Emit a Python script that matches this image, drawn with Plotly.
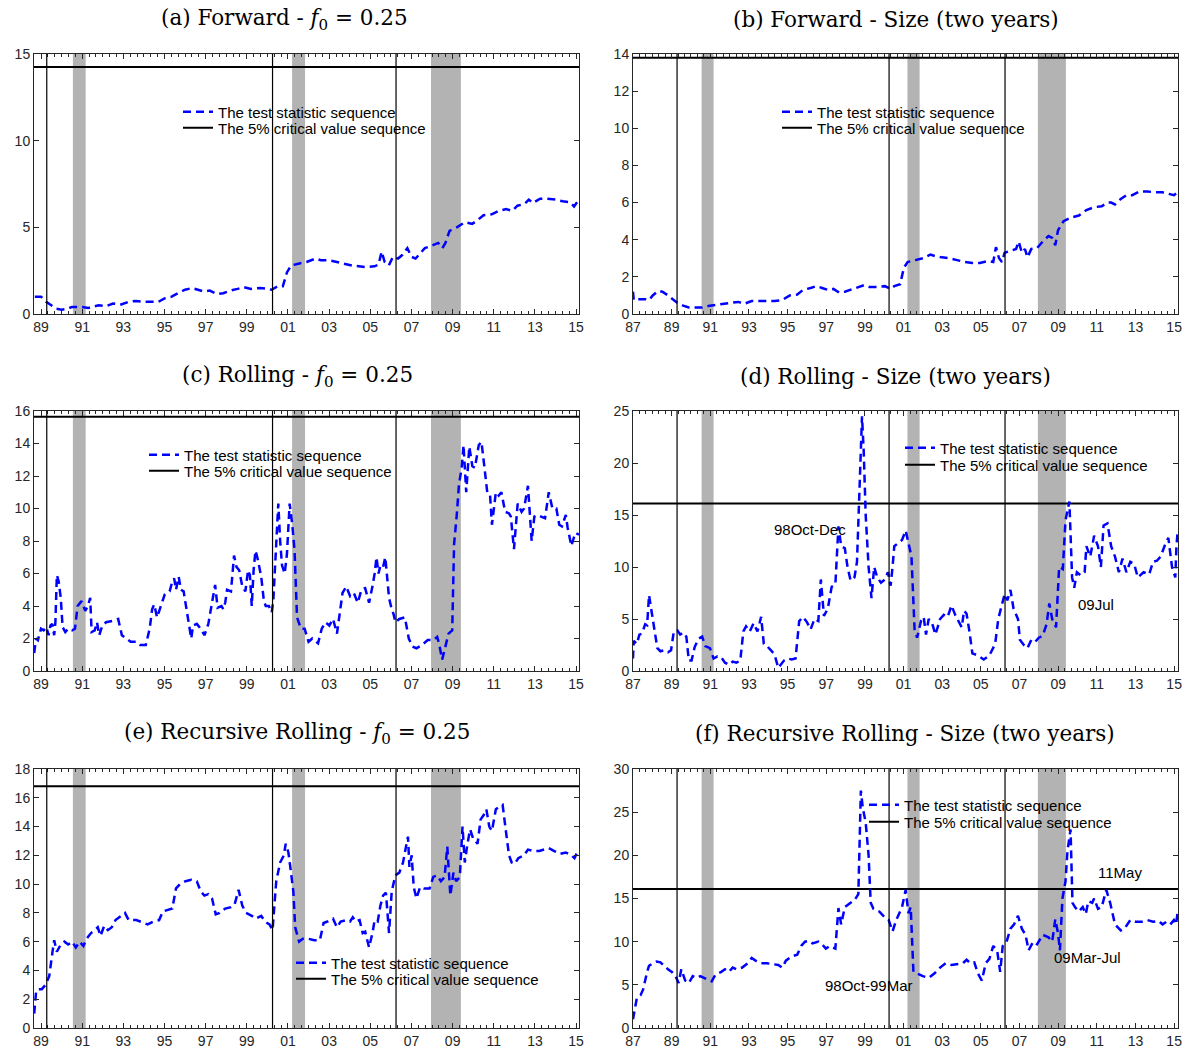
import plotly.graph_objects as go

# ---------------- data ----------------
crit_a, crit_b, crit_c, crit_d, crit_e, crit_f = 14.25, 13.8, 15.65, 16.1, 16.8, 16.1

regime_lines = [1989.28, 2000.25, 2006.25]
recessions = [(1990.55, 1991.17), (2001.2, 2001.83), (2007.95, 2009.4)]

left_range = [1988.66, 2015.14]
right_range = [1987.0, 2015.2]
left_ticks = [1989, 1991, 1993, 1995, 1997, 1999, 2001, 2003, 2005, 2007, 2009, 2011, 2013, 2015]
left_labels = ["89", "91", "93", "95", "97", "99", "01", "03", "05", "07", "09", "11", "13", "15"]
right_ticks = [1987] + left_ticks
right_labels = ["87"] + left_labels

a_x = [1988.70, 1989.00, 1989.25, 1989.50, 1989.75, 1990.00, 1990.25, 1990.50, 1991.00, 1991.30,
       1991.80, 1992.15, 1992.50, 1992.90, 1993.25, 1993.60, 1994.00, 1994.35, 1994.70, 1995.00,
       1995.35, 1995.65, 1996.00, 1996.35, 1996.65, 1996.90, 1997.20, 1997.55, 1997.85, 1998.20,
       1998.55, 1998.85, 1999.20, 1999.65, 2000.00, 2000.20, 2000.50, 2000.75, 2000.95, 2001.15,
       2001.50, 2001.90, 2002.35, 2002.60, 2003.00, 2003.35, 2003.70, 2004.10, 2004.45, 2004.80,
       2005.20, 2005.40, 2005.55, 2005.70, 2005.90, 2006.10, 2006.35, 2006.55, 2006.80, 2007.00,
       2007.20, 2007.45, 2007.65, 2007.90, 2008.30, 2008.50, 2008.65, 2008.85, 2009.20, 2009.60,
       2009.95, 2010.20, 2010.50, 2010.90, 2011.25, 2011.60, 2011.90, 2012.15, 2012.50, 2012.70,
       2012.90, 2013.25, 2013.60, 2014.00, 2014.35, 2014.70, 2014.90, 2015.14]
a_y = [1.0, 1.0, 0.7, 0.5, 0.3, 0.25, 0.3, 0.4, 0.4, 0.35,
       0.5, 0.45, 0.6, 0.55, 0.7, 0.75, 0.7, 0.7, 0.7, 0.9,
       1.0, 1.2, 1.4, 1.5, 1.4, 1.3, 1.35, 1.15, 1.2, 1.35,
       1.45, 1.55, 1.45, 1.5, 1.45, 1.4, 1.6, 1.6, 2.4, 2.8,
       2.9, 3.0, 3.2, 3.1, 3.1, 3.0, 2.9, 2.8, 2.75, 2.7,
       2.75, 2.85, 3.6, 3.0, 2.8, 3.3, 3.2, 3.4, 3.8, 3.3,
       3.2, 3.5, 3.8, 3.9, 4.1, 3.8, 4.1, 4.8, 5.0, 5.3,
       5.2, 5.4, 5.7, 5.75, 5.95, 6.05, 5.95, 6.25, 6.35, 6.6,
       6.4, 6.65, 6.65, 6.6, 6.5, 6.45, 6.2, 6.6]

b_x = [1987.00, 1987.04, 1987.24, 1987.63, 1987.83, 1988.02, 1988.32, 1988.52, 1988.81, 1989.11,
       1989.30, 1989.60, 1989.89, 1990.29, 1990.58, 1990.98, 1991.37, 1991.76, 1992.16, 1992.45,
       1992.75, 1993.14, 1993.54, 1993.93, 1994.32, 1994.72, 1995.11, 1995.50, 1995.80, 1996.19,
       1996.49, 1996.78, 1997.08, 1997.37, 1997.67, 1997.96, 1998.26, 1998.65, 1998.95, 1999.24,
       1999.64, 2000.03, 2000.33, 2000.52, 2000.82, 2001.02, 2001.21, 2001.61, 2002.00, 2002.39,
       2002.69, 2002.98, 2003.38, 2003.77, 2004.17, 2004.56, 2004.95, 2005.35, 2005.64, 2005.78,
       2005.94, 2006.09, 2006.23, 2006.53, 2006.82, 2006.96, 2007.12, 2007.28, 2007.41, 2007.61,
       2007.91, 2008.20, 2008.50, 2008.69, 2008.85, 2008.99, 2009.28, 2009.68, 2010.07, 2010.46,
       2010.86, 2011.25, 2011.55, 2011.74, 2011.94, 2012.24, 2012.53, 2012.83, 2013.22, 2013.61,
       2014.01, 2014.40, 2014.80, 2014.99, 2015.18]
b_y = [1.2, 0.75, 0.8, 0.8, 0.75, 1.0, 1.25, 1.2, 1.0, 0.75,
       0.6, 0.45, 0.35, 0.35, 0.35, 0.45, 0.5, 0.55, 0.6, 0.65,
       0.55, 0.7, 0.7, 0.7, 0.7, 0.75, 1.0, 1.05, 1.3, 1.4,
       1.5, 1.4, 1.3, 1.35, 1.15, 1.2, 1.3, 1.45, 1.55, 1.45,
       1.45, 1.5, 1.35, 1.5, 1.6, 2.5, 2.8, 2.9, 3.0, 3.2,
       3.1, 3.05, 3.0, 2.9, 2.8, 2.75, 2.75, 2.85, 2.8, 3.6,
       3.0, 2.8, 3.3, 3.4, 3.5, 3.9, 3.3, 3.5, 3.05, 3.5,
       3.55, 3.9, 4.2, 4.1, 3.7, 4.5, 5.0, 5.2, 5.3, 5.6,
       5.75, 5.8, 6.0, 6.0, 5.9, 6.2, 6.4, 6.4, 6.6, 6.6,
       6.55, 6.55, 6.45, 6.4, 6.55]

c_x = [1988.67, 1988.76, 1988.85, 1989.00, 1989.13, 1989.26, 1989.37, 1989.46, 1989.55, 1989.64,
       1989.70, 1989.77, 1989.86, 1989.96, 1990.05, 1990.18, 1990.32, 1990.51, 1990.65, 1990.78,
       1990.97, 1991.15, 1991.28, 1991.39, 1991.46, 1991.61, 1991.72, 1991.83, 1991.98, 1992.16,
       1992.53, 1992.75, 1992.93, 1993.17, 1993.36, 1993.63, 1993.82, 1994.09, 1994.28, 1994.40,
       1994.50, 1994.64, 1994.83, 1995.01, 1995.25, 1995.38, 1995.47, 1995.56, 1995.69, 1995.80,
       1995.93, 1996.11, 1996.21, 1996.30, 1996.39, 1996.57, 1996.76, 1996.94, 1997.13, 1997.31,
       1997.46, 1997.58, 1997.77, 1997.86, 1997.95, 1998.04, 1998.23, 1998.38, 1998.50, 1998.63,
       1998.78, 1998.93, 1999.06, 1999.15, 1999.24, 1999.33, 1999.42, 1999.51, 1999.70, 1999.83,
       1999.92, 2000.07, 2000.21, 2000.29, 2000.40, 2000.53, 2000.62, 2000.71, 2000.84, 2000.95,
       2001.08, 2001.21, 2001.32, 2001.44, 2001.63, 2001.81, 2002.00, 2002.18, 2002.46, 2002.64,
       2002.82, 2003.01, 2003.19, 2003.38, 2003.65, 2003.83, 2004.02, 2004.20, 2004.39, 2004.57,
       2004.75, 2004.94, 2005.12, 2005.21, 2005.30, 2005.40, 2005.49, 2005.62, 2005.73, 2005.80,
       2005.91, 2006.04, 2006.13, 2006.22, 2006.41, 2006.68, 2006.87, 2007.05, 2007.24, 2007.51,
       2007.79, 2008.06, 2008.25, 2008.34, 2008.49, 2008.61, 2008.80, 2008.98, 2009.07, 2009.20,
       2009.31, 2009.44, 2009.53, 2009.66, 2009.81, 2009.96, 2010.08, 2010.27, 2010.40, 2010.54,
       2010.69, 2010.82, 2010.91, 2011.10, 2011.24, 2011.37, 2011.55, 2011.74, 2011.83, 2011.98,
       2012.16, 2012.35, 2012.47, 2012.66, 2012.84, 2012.97, 2013.12, 2013.30, 2013.49, 2013.67,
       2013.85, 2014.04, 2014.18, 2014.31, 2014.50, 2014.59, 2014.77, 2014.96, 2015.14]
c_y = [1.1, 2.0, 1.9, 2.6, 2.5, 2.7, 2.2, 2.8, 2.9, 2.2,
       3.0, 5.9, 5.5, 4.5, 2.7, 2.4, 2.6, 2.5, 2.6, 4.0,
       4.3, 3.7, 4.0, 4.5, 2.4, 2.5, 3.0, 2.2, 2.8, 3.0,
       3.1, 3.2, 2.2, 2.0, 1.8, 1.8, 1.6, 1.6, 2.6, 3.8,
       4.1, 3.3, 4.0, 4.7, 4.9, 5.5, 5.7, 5.0, 5.8, 5.0,
       4.9, 3.4, 2.5, 2.0, 2.8, 2.9, 2.6, 2.2, 2.9, 4.3,
       5.3, 3.9, 4.0, 3.8, 4.2, 5.0, 4.9, 7.1, 6.4, 6.2,
       5.2, 4.9, 6.2, 5.9, 4.0, 6.2, 7.4, 7.0, 5.8, 4.3,
       4.0, 4.0, 3.6, 4.4, 7.0, 10.3, 8.0, 6.5, 6.0, 7.2,
       10.3, 9.0, 7.4, 3.3, 2.6, 2.6, 1.8, 2.0, 1.7, 2.6,
       3.0, 2.8, 3.2, 2.3, 4.8, 5.2, 4.6, 4.8, 4.2, 5.0,
       5.1, 4.2, 5.3, 6.0, 7.0, 6.0, 6.5, 6.4, 7.0, 6.0,
       4.5, 3.8, 3.5, 3.0, 3.2, 3.3, 2.0, 1.5, 1.4, 1.6,
       1.9, 1.9, 2.1, 1.7, 0.7, 1.3, 2.3, 2.5, 7.8, 9.6,
       11.5, 12.5, 13.9, 11.0, 13.8, 12.6, 12.5, 13.9, 14.1, 12.6,
       10.9, 10.8, 9.0, 11.0, 10.8, 11.0, 9.8, 9.7, 9.5, 7.5,
       10.3, 9.8, 10.0, 11.4, 8.0, 9.5, 9.6, 9.5, 9.4, 11.0,
       10.0, 10.0, 9.0, 8.9, 9.6, 8.8, 7.7, 8.5, 8.4]

d_x = [1987.00, 1987.04, 1987.20, 1987.33, 1987.47, 1987.63, 1987.73, 1987.83, 1987.98, 1988.12,
       1988.26, 1988.42, 1988.61, 1988.81, 1988.97, 1989.11, 1989.30, 1989.44, 1989.60, 1989.76,
       1989.89, 1990.03, 1990.19, 1990.39, 1990.58, 1990.74, 1990.98, 1991.17, 1991.37, 1991.57,
       1991.76, 1991.96, 1992.16, 1992.35, 1992.55, 1992.71, 1992.85, 1993.04, 1993.24, 1993.44,
       1993.63, 1993.77, 1993.93, 1994.13, 1994.32, 1994.52, 1994.68, 1994.81, 1995.01, 1995.21,
       1995.41, 1995.60, 1995.80, 1996.00, 1996.19, 1996.39, 1996.59, 1996.72, 1996.88, 1997.08,
       1997.28, 1997.47, 1997.63, 1997.77, 1997.96, 1998.10, 1998.26, 1998.46, 1998.59, 1998.75,
       1998.85, 1998.94, 1999.04, 1999.19, 1999.34, 1999.48, 1999.64, 1999.83, 2000.03, 2000.19,
       2000.33, 2000.43, 2000.52, 2000.72, 2000.92, 2001.11, 2001.27, 2001.41, 2001.57, 2001.70,
       2001.90, 2002.04, 2002.16, 2002.30, 2002.49, 2002.65, 2002.89, 2003.08, 2003.28, 2003.48,
       2003.67, 2003.87, 2004.01, 2004.13, 2004.26, 2004.40, 2004.56, 2004.85, 2005.15, 2005.44,
       2005.74, 2005.90, 2006.09, 2006.23, 2006.37, 2006.53, 2006.69, 2006.92, 2007.02, 2007.22,
       2007.41, 2007.61, 2007.81, 2008.00, 2008.20, 2008.40, 2008.54, 2008.69, 2008.89, 2009.05,
       2009.24, 2009.38, 2009.58, 2009.72, 2009.83, 2009.97, 2010.17, 2010.37, 2010.46, 2010.66,
       2010.86, 2011.06, 2011.21, 2011.35, 2011.55, 2011.74, 2011.94, 2012.14, 2012.33, 2012.53,
       2012.73, 2012.93, 2013.12, 2013.42, 2013.71, 2013.91, 2014.11, 2014.30, 2014.50, 2014.70,
       2014.89, 2015.06, 2015.12, 2015.18]
d_y = [1.2, 2.9, 2.6, 3.5, 3.6, 4.5, 4.4, 7.3, 5.5, 4.0,
       2.2, 1.9, 2.0, 1.8, 2.0, 3.8, 3.9, 3.5, 3.7, 3.3,
       1.0, 1.0, 2.3, 3.1, 3.3, 2.4, 2.2, 1.2, 1.4, 1.3,
       0.8, 0.6, 0.9, 0.8, 1.0, 3.8, 4.3, 3.8, 4.6, 3.8,
       5.2, 2.6, 2.4, 2.0, 1.6, 0.3, 0.7, 1.0, 1.2, 1.1,
       1.2, 4.8, 5.2, 4.7, 4.0, 5.0, 4.8, 8.8, 5.3, 6.0,
       8.1, 8.3, 13.9, 12.0, 11.8, 10.0, 8.7, 9.0, 10.5, 18.0,
       24.5, 21.0, 15.0, 10.0, 7.0, 10.0, 9.0, 8.5, 8.8, 9.5,
       8.2, 10.0, 12.0, 12.3, 12.6, 13.5, 12.0, 11.0, 4.0, 3.2,
       4.8, 5.2, 3.5, 5.0, 4.5, 3.5, 5.0, 5.4, 5.2, 6.3,
       5.4, 4.7, 4.2, 5.8, 5.5, 3.9, 1.7, 1.5, 1.1, 1.5,
       2.6, 5.0, 6.5, 7.4, 6.8, 7.8, 6.0, 5.0, 3.0, 2.5,
       2.2, 3.0, 2.8, 3.2, 3.4, 4.5, 6.5, 5.0, 4.2, 10.0,
       9.8, 14.5, 16.3, 9.0, 8.0, 9.5, 9.2, 9.5, 12.0, 11.0,
       13.0, 12.0, 10.0, 14.0, 14.2, 12.0, 11.0, 9.5, 10.8, 9.5,
       10.5, 10.3, 9.0, 9.5, 9.3, 10.5, 10.6, 11.0, 12.0, 12.8,
       10.0, 9.0, 12.0, 13.4]

e_x = [1988.67, 1988.76, 1988.85, 1989.04, 1989.22, 1989.40, 1989.55, 1989.64, 1989.77, 1989.96,
       1990.14, 1990.32, 1990.51, 1990.69, 1990.88, 1991.06, 1991.21, 1991.43, 1991.61, 1991.76,
       1991.89, 1992.07, 1992.25, 1992.44, 1992.62, 1992.90, 1993.08, 1993.26, 1993.63, 1994.00,
       1994.18, 1994.46, 1994.74, 1994.92, 1995.19, 1995.38, 1995.56, 1995.75, 1996.02, 1996.30,
       1996.57, 1996.76, 1996.94, 1997.13, 1997.31, 1997.49, 1997.68, 1997.95, 1998.23, 1998.41,
       1998.60, 1998.78, 1998.96, 1999.24, 1999.42, 1999.70, 1999.88, 2000.10, 2000.25, 2000.43,
       2000.62, 2000.80, 2000.89, 2001.02, 2001.13, 2001.26, 2001.35, 2001.54, 2001.72, 2002.00,
       2002.27, 2002.55, 2002.73, 2002.92, 2003.19, 2003.38, 2003.56, 2003.83, 2004.02, 2004.15,
       2004.29, 2004.48, 2004.63, 2004.75, 2004.94, 2005.12, 2005.21, 2005.36, 2005.49, 2005.62,
       2005.76, 2005.91, 2006.04, 2006.22, 2006.41, 2006.59, 2006.72, 2006.83, 2006.90, 2007.01,
       2007.11, 2007.24, 2007.42, 2007.60, 2007.88, 2008.06, 2008.25, 2008.43, 2008.61, 2008.74,
       2008.89, 2009.04, 2009.17, 2009.35, 2009.48, 2009.59, 2009.72, 2009.85, 2009.99, 2010.21,
       2010.36, 2010.51, 2010.64, 2010.78, 2010.91, 2011.10, 2011.28, 2011.43, 2011.56, 2011.74,
       2011.87, 2012.01, 2012.19, 2012.47, 2012.66, 2012.93, 2013.21, 2013.49, 2013.67, 2013.94,
       2014.22, 2014.50, 2014.77, 2014.92, 2015.05, 2015.14]
e_y = [1.0, 2.5, 2.7, 2.7, 3.0, 3.6, 5.2, 6.1, 5.3, 5.8,
       6.0, 5.8, 6.0, 5.6, 6.0, 5.7, 6.2, 6.6, 6.8, 7.0,
       6.4, 7.1, 6.8, 7.0, 7.5, 7.8, 8.0, 7.5, 7.5, 7.3,
       7.2, 7.4, 7.5, 8.1, 8.2, 8.3, 9.7, 10.0, 10.2, 10.3,
       10.2, 9.5, 9.2, 9.3, 9.0, 7.9, 8.0, 8.3, 8.4, 8.6,
       9.6, 8.5, 8.0, 7.8, 7.6, 7.8, 7.4, 7.2, 6.8, 10.2,
       11.5, 12.0, 12.8, 12.2, 11.0, 9.5, 7.0, 6.0, 6.2, 6.2,
       6.1, 6.1, 7.3, 7.4, 7.6, 7.0, 7.4, 7.5, 7.4, 7.7,
       7.4, 7.5, 6.6, 6.7, 5.6, 6.7, 7.5, 7.4, 8.5, 9.2,
       9.4, 6.6, 9.5, 10.6, 10.8, 11.5, 12.5, 13.3, 11.2, 12.0,
       9.8, 9.0, 9.8, 9.7, 9.7, 10.5, 10.6, 10.2, 10.5, 12.6,
       9.2, 10.8, 10.2, 10.5, 14.0, 11.5, 12.8, 13.8, 13.2, 12.8,
       14.5, 14.8, 15.2, 14.0, 13.7, 15.2, 15.4, 15.5, 14.0, 12.0,
       11.5, 11.4, 11.8, 12.0, 12.4, 12.3, 12.3, 12.4, 12.5, 12.3,
       12.1, 12.2, 12.0, 11.8, 12.2, 12.1]

f_x = [1987.00, 1987.04, 1987.20, 1987.39, 1987.53, 1987.73, 1987.83, 1988.02, 1988.22, 1988.42,
       1988.61, 1988.81, 1989.01, 1989.20, 1989.36, 1989.50, 1989.70, 1989.89, 1990.09, 1990.29,
       1990.48, 1990.68, 1990.88, 1991.07, 1991.27, 1991.57, 1991.76, 1991.96, 1992.16, 1992.35,
       1992.65, 1992.94, 1993.14, 1993.34, 1993.63, 1993.93, 1994.22, 1994.52, 1994.72, 1994.91,
       1995.21, 1995.50, 1995.70, 1995.90, 1996.09, 1996.29, 1996.59, 1996.78, 1996.98, 1997.18,
       1997.47, 1997.63, 1997.77, 1997.96, 1998.26, 1998.46, 1998.66, 1998.79, 1998.89, 1999.04,
       1999.19, 1999.30, 1999.44, 1999.74, 2000.03, 2000.23, 2000.43, 2000.62, 2000.92, 2001.11,
       2001.25, 2001.37, 2001.51, 2001.70, 2002.00, 2002.30, 2002.59, 2002.89, 2003.18, 2003.48,
       2003.77, 2004.07, 2004.26, 2004.46, 2004.66, 2004.85, 2005.05, 2005.25, 2005.44, 2005.64,
       2005.84, 2006.00, 2006.13, 2006.33, 2006.53, 2006.72, 2006.92, 2007.12, 2007.31, 2007.47,
       2007.71, 2007.91, 2008.20, 2008.50, 2008.69, 2008.85, 2008.99, 2009.09, 2009.22, 2009.38,
       2009.48, 2009.64, 2009.74, 2009.87, 2010.07, 2010.27, 2010.43, 2010.56, 2010.76, 2010.86,
       2011.06, 2011.25, 2011.49, 2011.69, 2011.94, 2012.24, 2012.43, 2012.73, 2013.02, 2013.32,
       2013.61, 2013.91, 2014.20, 2014.40, 2014.60, 2014.80, 2014.99, 2015.10, 2015.18]
f_y = [1.0, 1.5, 3.5, 3.8, 4.5, 6.5, 7.2, 7.5, 7.7, 7.6,
       7.2, 6.8, 6.5, 6.0, 5.2, 6.8, 5.5, 5.2, 6.0, 5.8,
       6.0, 5.8, 5.6, 5.4, 6.2, 6.5, 6.8, 6.5, 7.0, 6.8,
       7.0, 7.5, 8.1, 7.8, 7.5, 7.5, 7.4, 7.3, 7.0, 7.8,
       8.3, 8.5, 9.5, 10.0, 10.1, 9.8, 10.0, 9.7, 9.2, 9.5,
       9.2, 13.9, 12.0, 14.0, 14.5, 14.8, 15.5, 27.5, 25.5, 23.8,
       20.0, 14.5, 13.8, 13.5, 12.8, 12.5, 11.2, 12.5, 14.0, 16.0,
       13.3, 14.0, 6.5, 6.3, 6.0, 5.8, 6.3, 7.0, 7.5, 7.3,
       7.4, 7.5, 7.9, 7.5, 7.6, 6.3, 5.5, 7.5, 8.0, 9.5,
       9.0, 6.5, 9.5, 10.0, 11.5, 12.0, 13.0, 11.5, 10.8, 9.0,
       10.0, 9.7, 10.8, 10.5, 10.0, 12.6, 11.0, 9.0, 15.0, 17.0,
       20.5, 23.0, 14.5, 14.0, 13.5, 14.0, 13.2, 14.7, 14.5, 15.0,
       13.8, 14.0, 16.0, 14.5, 12.0, 11.3, 11.5, 12.5, 12.3, 12.3,
       12.5, 12.3, 12.4, 12.0, 12.3, 12.0, 12.5, 12.0, 13.4]

titles = ["(a) Forward - <i>f</i><sub>0</sub> = 0.25",
          "(b) Forward - Size (two years)",
          "(c) Rolling - <i>f</i><sub>0</sub> = 0.25",
          "(d) Rolling - Size (two years)",
          "(e) Recursive Rolling - <i>f</i><sub>0</sub> = 0.25",
          "(f) Recursive Rolling - Size (two years)"]

y_ranges = [[0, 15], [0, 14], [0, 16], [0, 25], [0, 18], [0, 30]]
y_dticks = [5, 2, 2, 5, 2, 5]

# ---------------- layout geometry ----------------
W, H = 1186, 1049
def px_x(p): return p / W
def px_y(p): return 1 - p / H

col_dom = [[px_x(34), px_x(579)], [px_x(633), px_x(1178)]]
row_dom = [[px_y(314), px_y(54)], [px_y(671), px_y(411)], [px_y(1028), px_y(769)]]
title_pos = [(284, 19), (896, 19), (297, 376), (895, 376), (297, 733), (905, 733)]
# (x of legend box, y centre of first entry, y centre of second entry)
legend_pos = [(178, 112, 128), (777, 112, 128), (144, 455, 471),
              (900, 448, 465), (291, 963, 979), (864, 805, 822)]

panels = [
    (a_x, a_y, crit_a, left_range, left_ticks, left_labels),
    (b_x, b_y, crit_b, right_range, right_ticks, right_labels),
    (c_x, c_y, crit_c, left_range, left_ticks, left_labels),
    (d_x, d_y, crit_d, right_range, right_ticks, right_labels),
    (e_x, e_y, crit_e, left_range, left_ticks, left_labels),
    (f_x, f_y, crit_f, right_range, right_ticks, right_labels),
]

fig = go.Figure()
shapes = []
annotations = []
layout = dict(
    width=W, height=H, margin=dict(l=0, r=0, t=0, b=0, autoexpand=False),
    paper_bgcolor="white", plot_bgcolor="white", showlegend=True,
    font=dict(family="Liberation Sans, Arial, sans-serif", size=14, color="#262626"),
)

tick_font = dict(family="Liberation Sans, Arial, sans-serif", size=14, color="#262626")
legend_font = dict(family="Liberation Sans, Arial, sans-serif", size=15, color="#000000")

for i, (xs, ys, cv, xr, tv, tt) in enumerate(panels):
    r, c = divmod(i, 2)
    n = i + 1
    xa = "x" if n == 1 else f"x{n}"
    ya = "y" if n == 1 else f"y{n}"
    lg_stat = "legend" if n == 1 else f"legend{n}"
    lg_crit = f"legend{n + 6}"

    # critical value sequence
    fig.add_trace(go.Scatter(x=xr, y=[cv, cv], mode="lines", xaxis=xa, yaxis=ya,
                             line=dict(color="black", width=2),
                             name="The 5% critical value sequence", legend=lg_crit,
                             hoverinfo="skip"))
    # test statistic sequence
    fig.add_trace(go.Scatter(x=xs, y=ys, mode="lines", xaxis=xa, yaxis=ya,
                             line=dict(color="#0000ff", width=2.5, dash="8px,5px"),
                             name="The test statistic sequence", legend=lg_stat))

    for (s, e) in recessions:
        shapes.append(dict(type="rect", xref=xa, yref=f"{ya} domain", x0=s, x1=e, y0=0, y1=1,
                           fillcolor="#b3b3b3", line=dict(width=0), layer="below"))
    for v in regime_lines:
        shapes.append(dict(type="line", xref=xa, yref=f"{ya} domain", x0=v, x1=v, y0=0, y1=1,
                           line=dict(color="black", width=1.2), layer="above"))

    axis_key_x = "xaxis" if n == 1 else f"xaxis{n}"
    axis_key_y = "yaxis" if n == 1 else f"yaxis{n}"
    layout[axis_key_x] = dict(
        domain=col_dom[c], anchor=ya, range=xr, tickmode="array", tickvals=tv, ticktext=tt,
        ticks="inside", ticklen=5, tickcolor="#262626", showline=True, linecolor="#262626",
        linewidth=1, mirror="ticks", showgrid=False, zeroline=False, tickfont=tick_font,
        automargin=False,
        minor=dict(ticks="inside", ticklen=3, dtick=1/3, tick0=1989, tickcolor="#262626", showgrid=False),
    )
    layout[axis_key_y] = dict(
        domain=row_dom[r], anchor=xa, range=y_ranges[i], dtick=y_dticks[i], tick0=0,
        ticks="inside", ticklen=5, tickcolor="#262626", showline=True, linecolor="#262626",
        linewidth=1, mirror="ticks", showgrid=False, zeroline=False, tickfont=tick_font,
        automargin=False,
    )
    lx, ly1, ly2 = legend_pos[i]
    for key, yy in ((lg_stat, ly1), (lg_crit, ly2)):
        layout[key] = dict(x=px_x(lx), y=px_y(yy), xanchor="left", yanchor="middle",
                           bgcolor="rgba(0,0,0,0)", borderwidth=0, font=legend_font,
                           tracegroupgap=0, itemwidth=30)
    tx, ty = title_pos[i]
    annotations.append(dict(text=titles[i], x=px_x(tx), y=px_y(ty), xref="paper", yref="paper",
                            xanchor="center", yanchor="middle", showarrow=False,
                            font=dict(family="DejaVu Serif, Liberation Serif, serif", size=21.5,
                                      color="black")))

# event labels
event_labels = [
    ("x4", "y4", 1996.17, 13.56, "98Oct-Dec"),
    ("x4", "y4", 2010.98, 6.35, "09Jul"),
    ("x6", "y6", 1999.22, 4.98, "98Oct-99Mar"),
    ("x6", "y6", 2010.51, 8.22, "09Mar-Jul"),
    ("x6", "y6", 2012.22, 18.07, "11May"),
]
for xa, ya, x, y, t in event_labels:
    annotations.append(dict(text=t, x=x, y=y, xref=xa, yref=ya, showarrow=False,
                            xanchor="center", yanchor="middle",
                            font=dict(family="Liberation Sans, Arial, sans-serif", size=15,
                                      color="black")))

layout["shapes"] = shapes
layout["annotations"] = annotations
fig.update_layout(**layout)
fig.write_html("out.html", config={"displayModeBar": False},
               post_script="document.body.style.margin='0';document.body.style.overflow='hidden';")
